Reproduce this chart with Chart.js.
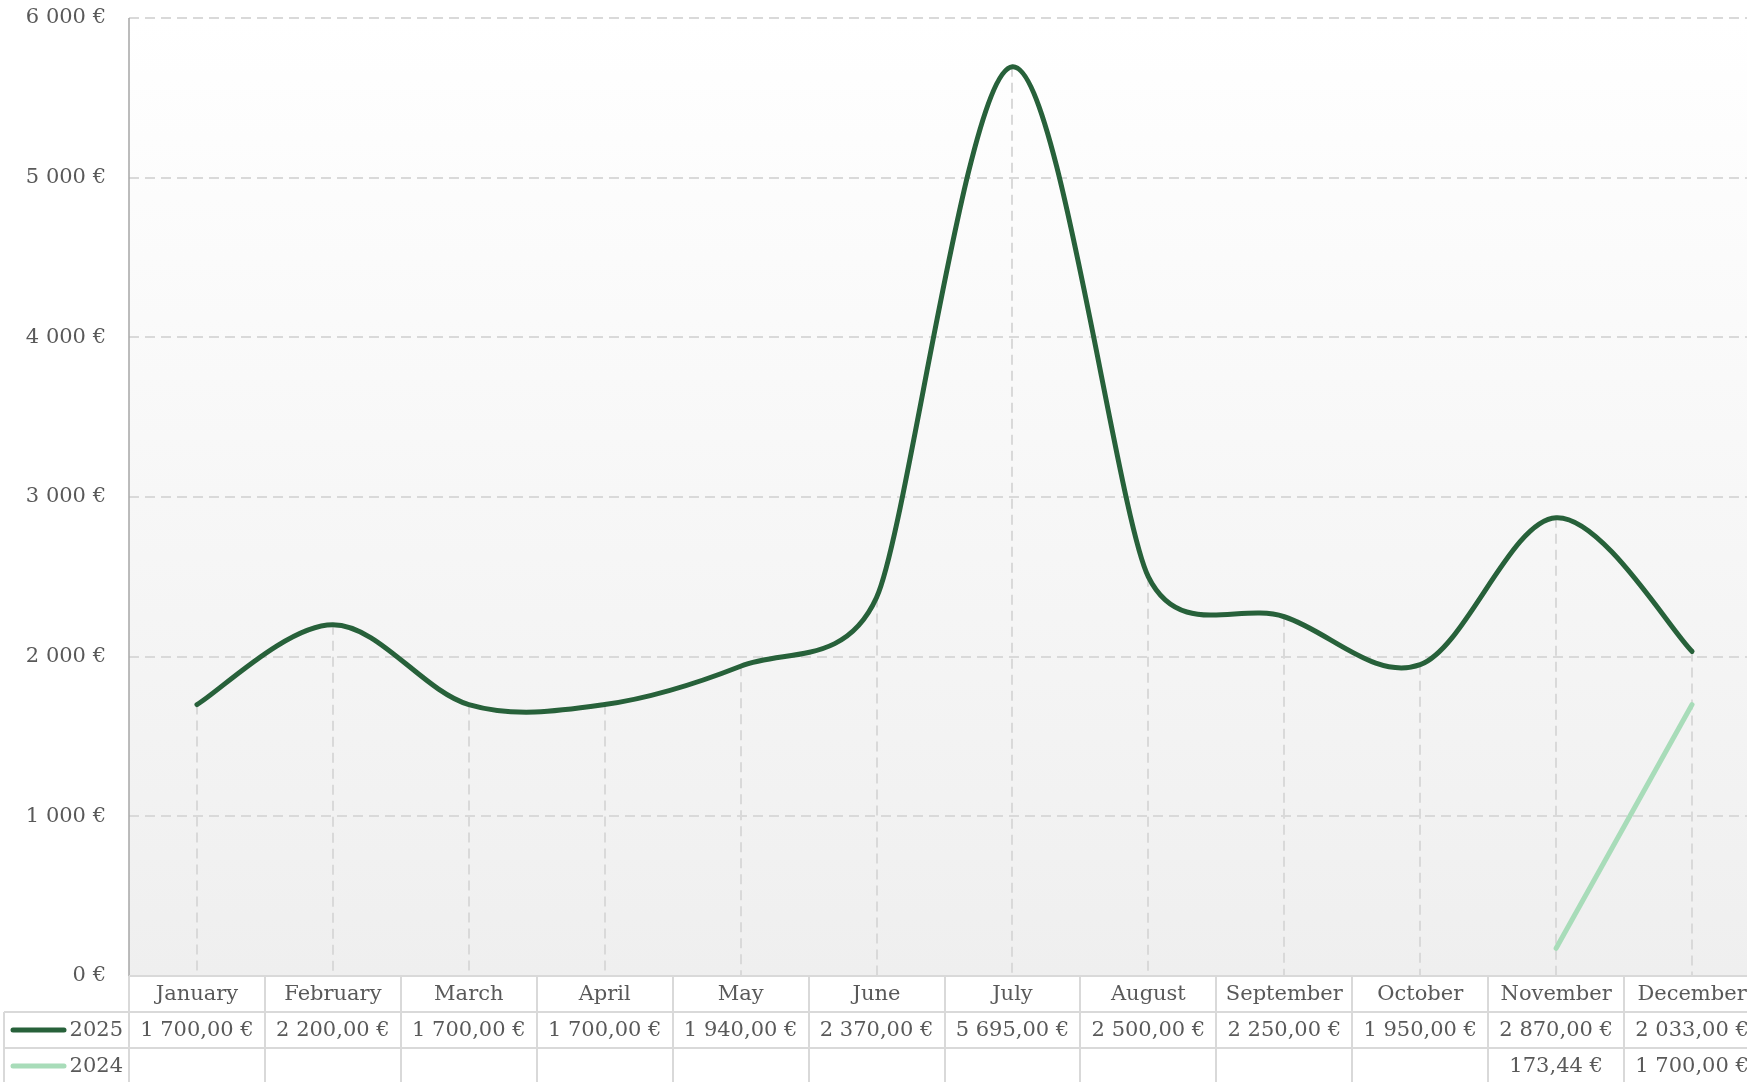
<!DOCTYPE html>
<html>
<head>
<meta charset="utf-8">
<script src="https://cdn.jsdelivr.net/npm/chart.js@4.4.1/dist/chart.umd.min.js"></script>
<style>
  html, body { margin: 0; padding: 0; background: #fff; overflow: hidden; }
  #wrap { position: absolute; left: 0; top: 0; width: 1762px; height: 1082px; }
</style>
</head>
<body>
<div id="wrap"><canvas id="chart"></canvas></div>
<script>
'use strict';

const months = ['January', 'February', 'March', 'April', 'May', 'June',
  'July', 'August', 'September', 'October', 'November', 'December'];
const sales2025 = [1700, 2200, 1700, 1700, 1940, 2370, 5695, 2500, 2250, 1950, 2870, 2033];
const sales2024 = [null, null, null, null, null, null, null, null, null, null, 173.44, 1700];
const seriesNames = ['2025', '2024'];
const seriesColors = ['#27613a', '#a8dcb9'];

const FONT = '"DejaVu Serif", serif';
const TEXT = '#595959';
const RULE = '#d9d9d9';

// "1 700,00 €" style
function euro(v, dec) {
  const parts = v.toFixed(dec).split('.');
  const whole = parts[0].replace(/\B(?=(\d{3})+(?!\d))/g, '\u00a0');
  return whole + (dec ? ',' + parts[1] : '') + '\u00a0€';
}

const backdrop = {
  id: 'backdrop',
  beforeDraw(chart) {
    const { ctx, chartArea: a } = chart;
    const g = ctx.createLinearGradient(0, a.top, 0, a.bottom);
    g.addColorStop(0, '#ffffff');
    g.addColorStop(1, '#efefef');
    ctx.save();
    ctx.fillStyle = g;
    ctx.fillRect(a.left, a.top, a.right - a.left, a.bottom - a.top);
    ctx.restore();
  }
};

// spreadsheet-style smoothing: tangent along (next - prev), handle length
// limited to a sixth of that chord or half of either neighbouring segment
function smoothRun(pts) {
  const n = pts.length;
  const dist = (p, q) => Math.hypot(q.x - p.x, q.y - p.y);
  pts.forEach((p, i) => {
    const a = pts[i - 1] || p;
    const b = pts[i + 1] || p;
    const chord = dist(a, b);
    if (!chord) return;
    let len = chord / 6;
    if (i > 0 && i < n - 1) len = Math.min(len, dist(a, p) / 2, dist(p, b) / 2);
    const ux = (b.x - a.x) / chord;
    const uy = (b.y - a.y) / chord;
    p.cp1x = p.x - ux * len;
    p.cp1y = p.y - uy * len;
    p.cp2x = p.x + ux * len;
    p.cp2y = p.y + uy * len;
  });
}

const smoothing = {
  id: 'smoothing',
  beforeDatasetDraw(chart, args) {
    const line = args.meta.dataset;
    let run = [];
    args.meta.data.forEach(pt => {
      if (pt.skip) { smoothRun(run); run = []; } else run.push(pt);
    });
    smoothRun(run);
    line._pointsUpdated = true;
    line._path = undefined;
  }
};

// drop lines from the highest point of each month down to the axis
const dropLines = {
  id: 'dropLines',
  beforeDatasetsDraw(chart) {
    const { ctx, chartArea: a, scales: { x, y } } = chart;
    ctx.save();
    ctx.strokeStyle = RULE;
    ctx.lineWidth = 2;
    ctx.setLineDash([10, 6]);
    months.forEach((m, i) => {
      const vals = [sales2025[i], sales2024[i]].filter(v => v !== null);
      if (!vals.length) return;
      const px = Math.round(x.getPixelForValue(i));
      ctx.beginPath();
      ctx.moveTo(px, y.getPixelForValue(Math.max(...vals)));
      ctx.lineTo(px, a.bottom);
      ctx.stroke();
    });
    ctx.setLineDash([]);
    ctx.strokeStyle = '#a6a6a6';
    ctx.lineWidth = 1.5;
    ctx.beginPath();
    ctx.moveTo(a.left, a.top);
    ctx.lineTo(a.left, a.bottom);
    ctx.stroke();
    ctx.restore();
  }
};

// data table under the plot: header row of months, one row per series
const dataTable = {
  id: 'dataTable',
  afterDraw(chart) {
    const { ctx, chartArea: a, scales: { x } } = chart;
    const step = x.getPixelForValue(1) - x.getPixelForValue(0);
    const rowH = 36;
    const top = a.bottom;
    const rows = [top, top + rowH, top + 2 * rowH, top + 3 * rowH];
    const legendLeft = 4;
    ctx.save();
    ctx.strokeStyle = RULE;
    ctx.lineWidth = 2;
    ctx.beginPath();
    ctx.moveTo(a.left, rows[0]);
    ctx.lineTo(chart.width, rows[0]);
    for (let r = 1; r < rows.length; r++) {
      ctx.moveTo(legendLeft, rows[r]);
      ctx.lineTo(chart.width, rows[r]);
    }
    ctx.moveTo(a.left, rows[0]);
    ctx.lineTo(a.left, rows[3]);
    ctx.moveTo(legendLeft, rows[1]);
    ctx.lineTo(legendLeft, rows[3]);
    months.forEach((m, i) => {
      const bx = Math.round(x.getPixelForValue(i) + step / 2);
      ctx.moveTo(bx, rows[0]);
      ctx.lineTo(bx, rows[3]);
    });
    ctx.stroke();

    ctx.fillStyle = TEXT;
    ctx.font = '21px ' + FONT;
    ctx.textAlign = 'center';
    ctx.textBaseline = 'middle';
    months.forEach((m, i) => {
      const cx = x.getPixelForValue(i);
      ctx.fillText(m, cx, (rows[0] + rows[1]) / 2 + 1);
      [sales2025, sales2024].forEach((s, r) => {
        if (s[i] !== null) ctx.fillText(euro(s[i], 2), cx, (rows[r + 1] + rows[r + 2]) / 2 + 1);
      });
    });

    seriesNames.forEach((name, r) => {
      const cy = (rows[r + 1] + rows[r + 2]) / 2;
      ctx.strokeStyle = seriesColors[r];
      ctx.lineWidth = 5;
      ctx.lineCap = 'round';
      ctx.beginPath();
      ctx.moveTo(13, cy);
      ctx.lineTo(64, cy);
      ctx.stroke();
      ctx.fillStyle = TEXT;
      ctx.textAlign = 'right';
      ctx.fillText(name, 123, cy + 1);
    });
    ctx.restore();
  }
};

new Chart(document.getElementById('chart'), {
  type: 'line',
  data: {
    labels: months,
    datasets: [
      { label: seriesNames[0], data: sales2025, borderColor: seriesColors[0], borderWidth: 5 },
      { label: seriesNames[1], data: sales2024, borderColor: seriesColors[1], borderWidth: 5 }
    ]
  },
  options: {
    responsive: true,
    maintainAspectRatio: false,
    animation: false,
    layout: { padding: { top: 18, right: 2, bottom: 106, left: 0 } },
    elements: {
      line: { tension: 0.4, capBezierPoints: false, fill: false, borderCapStyle: 'round', borderJoinStyle: 'round' },
      point: { radius: 0, hoverRadius: 0 }
    },
    plugins: { legend: { display: false }, tooltip: { enabled: false } },
    scales: {
      x: { display: false, offset: true },
      y: {
        min: 0,
        max: 6000,
        afterFit(s) {
          s.width = 129;
          s.paddingTop = 0;
          s.paddingBottom = 0;
        },
        ticks: {
          stepSize: 1000,
          padding: 23,
          color: TEXT,
          font: { family: FONT, size: 21 },
          callback: v => euro(v, 0)
        },
        grid: { color: RULE, lineWidth: 2, drawTicks: false },
        border: { display: false, dash: [10, 6] }
      }
    }
  },
  plugins: [backdrop, smoothing, dropLines, dataTable]
});
</script>
</body>
</html>
